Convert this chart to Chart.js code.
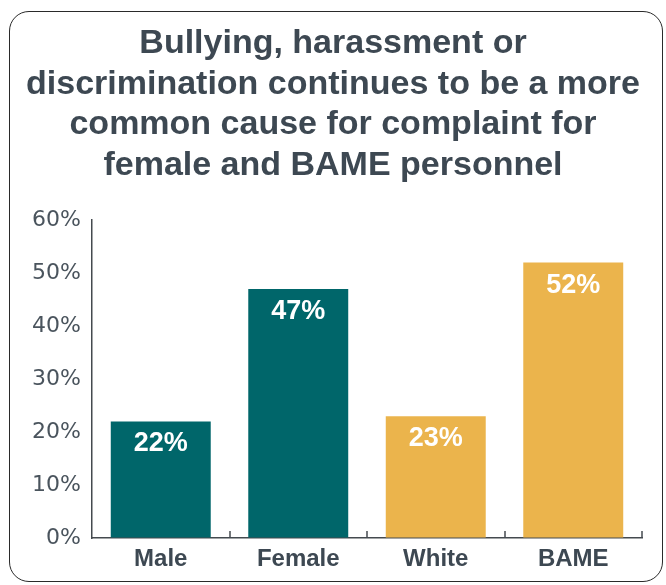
<!DOCTYPE html>
<html>
<head>
<meta charset="utf-8">
<script src="https://cdn.jsdelivr.net/npm/chart.js@4.4.1/dist/chart.umd.min.js"></script>
<style>
  html, body { margin: 0; padding: 0; background: #fff; }
  #wrap { position: relative; width: 666px; height: 585px; overflow: hidden; }
  #frame {
    position: absolute; left: 9px; top: 11px; width: 652px; height: 569px;
    border: 1.5px solid #2a2a2a; border-radius: 20px;
  }
  #myChart { position: absolute; left: 0; top: 0; }
</style>
</head>
<body>
<div id="wrap">
  <div id="frame"></div>
  <canvas id="myChart" width="666" height="585"></canvas>
</div>
<script>
// dados
const titleLines = [
  'Bullying, harassment or',
  'discrimination continues to be a more',
  'common cause for complaint for',
  'female and BAME personnel'
];
const categories = ['Male', 'Female', 'White', 'BAME'];
const values = [22, 47, 23, 52];
const barColors = ['#00666a', '#00666a', '#ebb44c', '#ebb44c'];
const yMax = 60;
const yStep = 10;

const textColor = '#3d4852';
const axisColor = '#444a4f';

// rotulos dentro das barras
const barLabels = {
  id: 'barLabels',
  afterDatasetsDraw(chart) {
    const ctx = chart.ctx;
    const meta = chart.getDatasetMeta(0);
    ctx.save();
    ctx.fillStyle = '#ffffff';
    ctx.font = 'bold 27px "Liberation Sans", Arial, sans-serif';
    ctx.textAlign = 'center';
    ctx.textBaseline = 'alphabetic';
    meta.data.forEach((bar, i) => {
      ctx.fillText(values[i] + '%', bar.x, bar.y + 30);
    });
    ctx.restore();
  }
};

// tracinhos para cima no eixo x
const upTicks = {
  id: 'upTicks',
  afterDraw(chart) {
    const xs = chart.scales.x;
    const ctx = chart.ctx;
    ctx.save();
    ctx.strokeStyle = axisColor;
    ctx.lineWidth = 1.5;
    for (let i = 1; i <= categories.length; i++) {
      const x = Math.round(xs.getPixelForValue(i - 0.5));
      ctx.beginPath();
      ctx.moveTo(x, xs.top);
      ctx.lineTo(x, xs.top - 7);
      ctx.stroke();
    }
    ctx.restore();
  }
};

new Chart(document.getElementById('myChart'), {
  type: 'bar',
  data: {
    labels: categories,
    datasets: [{
      data: values,
      backgroundColor: barColors,
      borderWidth: 0,
      barPercentage: 0.727,
      categoryPercentage: 1
    }]
  },
  options: {
    responsive: false,
    animation: false,
    devicePixelRatio: 1,
    layout: { padding: { top: 0, right: 24, bottom: 0, left: 24 } },
    plugins: {
      legend: { display: false },
      tooltip: { enabled: false },
      title: {
        display: true,
        text: titleLines,
        color: textColor,
        font: { family: '"Liberation Sans", Arial, sans-serif', weight: 'bold', size: 34, lineHeight: 1.2 },
        padding: { top: 23, bottom: 34 }
      }
    },
    scales: {
      x: {
        grid: { display: true, drawOnChartArea: false, drawTicks: false },
        border: { display: true, color: axisColor, width: 1.5 },
        ticks: {
          color: textColor,
          padding: 7,
          font: { family: '"Liberation Sans", Arial, sans-serif', weight: 'bold', size: 24 }
        },
        afterFit(scale) { scale.height = 47; }
      },
      y: {
        min: 0,
        max: yMax,
        grid: { display: true, drawOnChartArea: false, drawTicks: false },
        border: { display: true, color: axisColor, width: 1.5 },
        ticks: {
          stepSize: yStep,
          color: '#4a545d',
          padding: 11,
          font: { family: '"DejaVu Sans", sans-serif', size: 22 },
          callback: v => v + '%'
        },
        afterFit(scale) { scale.width = 68; }
      }
    }
  },
  plugins: [barLabels, upTicks]
});
</script>
</body>
</html>
